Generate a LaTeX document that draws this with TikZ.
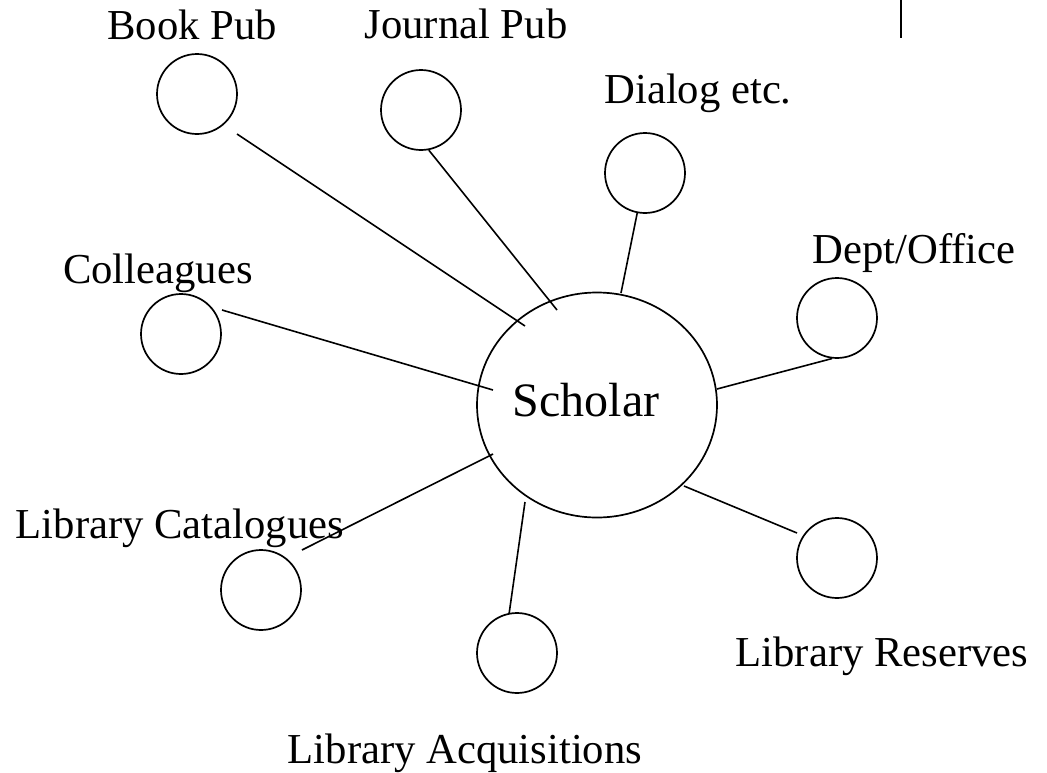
\documentclass[tikz,border=0pt]{standalone}
\usepackage{fontspec}
\setmainfont{Liberation Serif}
\usetikzlibrary{shapes.geometric}
\tikzset{
  sat/.style={circle, draw, line width=1.7pt, minimum size=80pt, inner sep=0pt},
  hub/.style={ellipse, draw, line width=1.7pt, minimum width=240pt, minimum height=225pt, inner sep=0pt},
  lbl/.style={anchor=base, inner sep=0pt, font=\fontsize{42.67}{50}\selectfont},
  biglbl/.style={anchor=base, inner sep=0pt, font=\fontsize{48}{56}\selectfont},
  conn/.style={line width=1.6pt}
}
\begin{document}
\begin{tikzpicture}[x=1pt, y=-1pt]
\useasboundingbox (0,0) rectangle (1047,772);
% hub
\node[hub] (scholar) at (597,405) {};
\node[biglbl] (scholarlbl) at (586,416) {Scholar};
% satellites
\node[sat] (book) at (197,94) {};
\node[sat] (journal) at (421,110) {};
\node[sat] (dialog) at (645,173) {};
\node[sat] (dept) at (837,318) {};
\node[sat] (coll) at (181,334) {};
\node[sat] (cat) at (261,590) {};
\node[sat] (acq) at (517,653) {};
\node[sat] (res) at (837,558) {};
% labels
\node[lbl] (booklbl) at (192,39) {Book Pub};
\node[lbl] (journallbl) at (466,38) {Journal Pub};
\node[lbl] (dialoglbl) at (698,103) {Dialog etc.};
\node[lbl] (colllbl) at (158,283) {Colleagues};
\node[lbl] (deptlbl) at (914,263) {Dept/Office};
\node[lbl] (catlbl) at (180,538) {Library Catalogues};
\node[lbl] (acqlbl) at (465,763) {Library Acquisitions};
\node[lbl] (reslbl) at (882,666) {Library Reserves};
% free ends of connectors
\coordinate (bk1) at (237,134);
\coordinate (bk2) at (525,326);
\coordinate (jn2) at (557,310);
\coordinate (dl2) at (621,293);
\coordinate (dp2) at (717,389);
\coordinate (cl1) at (222,310);
\coordinate (cl2) at (493,390);
\coordinate (ct1) at (302,550);
\coordinate (ct2) at (493,454);
\coordinate (aq2) at (525,502);
\coordinate (rs1) at (797,533);
\coordinate (rs2) at (684,486);
% connectors
\draw[conn] (bk1) -- (bk2);
\draw[conn] (journal.-79) -- (jn2);
\draw[conn] (dialog.-101) -- (dl2);
\draw[conn] (dept.-97) -- (dp2);
\draw[conn] (cl1) -- (cl2);
\draw[conn] (ct1) -- (ct2);
\draw[conn] (acq.101) -- (aq2);
\draw[conn] (rs1) -- (rs2);
% stray vertical mark at top right
\coordinate (vm1) at (901,0);
\coordinate (vm2) at (901,38);
\draw[conn] (vm1) -- (vm2);
\end{tikzpicture}
\end{document}
